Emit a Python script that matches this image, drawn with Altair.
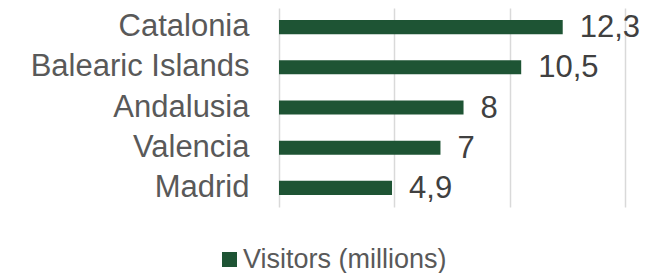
import altair as alt
import pandas as pd

regions = ["Catalonia", "Balearic Islands", "Andalusia", "Valencia", "Madrid"]
visitors = [12.3, 10.5, 8, 7, 4.9]
series_name = "Visitors (millions)"

df = pd.DataFrame({"Region": regions, "Visitors": visitors, "Series": [series_name] * len(regions)})

FONT = "Liberation Sans"
GREEN = "#1e5434"
GRAY = "#595959"

base = alt.Chart(df).encode(
    y=alt.Y("Region:N", sort=regions, title=None,
            scale=alt.Scale(paddingInner=0.65, paddingOuter=0.3),
            axis=alt.Axis(ticks=False, domain=False, grid=False, labelFont=FONT,
                          labelFontSize=31, labelColor=GRAY, labelPadding=30, labelLimit=400)),
)

bars = base.mark_bar(color=GREEN).encode(
    x=alt.X("Visitors:Q", title=None, scale=alt.Scale(domain=[0, 15], nice=False),
            axis=alt.Axis(values=[0, 5, 10, 15], labels=False, ticks=False, domain=False,
                          grid=True, gridColor="#d9d9d9", gridWidth=1.5)),
    color=alt.Color("Series:N", scale=alt.Scale(range=[GREEN]), title=None,
                    legend=alt.Legend(orient="none", legendX=-63, legendY=238, symbolType="square",
                                      symbolSize=225, symbolStrokeWidth=0, labelFont=FONT,
                                      labelFontSize=27, labelColor=GRAY, symbolOpacity=1,
                                      labelOffset=0, labelLimit=400, padding=0)),
)

text = base.transform_calculate(
    label="replace(format(datum.Visitors, ''), '.', ',')"
).mark_text(align="left", baseline="middle", dx=17, dy=1, font=FONT, fontSize=31, color="#404040").encode(
    x=alt.X("Visitors:Q"),
    text="label:N",
)

chart = (bars + text).properties(
    width=346, height=199,
    autosize=alt.AutoSizeParams(type="none"),
    padding={"left": 271, "top": 0, "right": 33, "bottom": 66},
).configure_view(stroke=None)

chart.save("out.html", embed_options={"renderer": "svg", "actions": False})
